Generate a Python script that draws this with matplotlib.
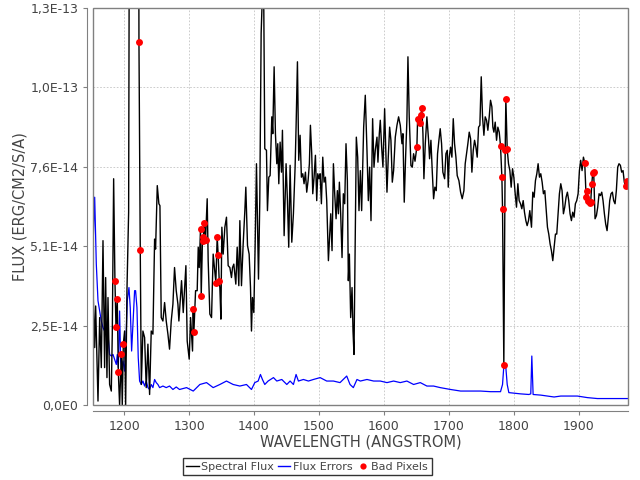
import numpy as np
import matplotlib
matplotlib.use("Agg")
import matplotlib.pyplot as plt
from matplotlib.lines import Line2D
from matplotlib.patches import Rectangle

# ================= DATA (flux in 1E-14 erg/cm2/s/A) =================
flux_wave = [
    1152.0, 1154.6, 1156.1, 1159.7, 1162.3, 1164.8, 1167.4, 1169.9, 1171.5, 1173.5,
    1175.1, 1177.6, 1180.2, 1181.7, 1183.8, 1185.8, 1187.4, 1189.4, 1191.0, 1193.0,
    1195.6, 1197.1, 1198.7, 1200.7, 1202.3, 1204.3, 1206.9, 1208.4, 1210.0, 1215.0,
    1220.0, 1222.0, 1222.8, 1224.8, 1226.4, 1228.9, 1231.5, 1234.0, 1236.6, 1239.2,
    1241.7, 1244.3, 1246.9, 1248.4, 1251.0, 1253.5, 1255.1, 1257.1, 1259.7, 1262.3,
    1264.8, 1267.4, 1269.9, 1272.5, 1275.1, 1277.6, 1280.2, 1282.8, 1284.3, 1288.4,
    1291.0, 1295.1, 1297.1, 1300.2, 1302.3, 1305.3, 1306.4, 1307.4, 1310.0, 1312.5,
    1314.1, 1315.6, 1317.6, 1318.7, 1320.7, 1321.7, 1323.3, 1325.3, 1327.9, 1329.4,
    1332.0, 1334.6, 1337.1, 1341.2, 1343.3, 1344.8, 1346.4, 1347.4, 1349.0, 1350.5,
    1352.5, 1355.1, 1357.6, 1360.2, 1362.8, 1365.3, 1366.9, 1368.9, 1372.0, 1374.1,
    1376.6, 1378.2, 1380.7, 1383.3, 1385.9, 1387.4, 1390.0, 1392.5, 1394.6, 1396.1,
    1397.6, 1399.7, 1401.7, 1403.8, 1406.9, 1408.9, 1411.0, 1413.0, 1415.1, 1416.6,
    1419.2, 1420.7, 1422.8, 1424.8, 1427.4, 1428.9, 1431.0, 1433.0, 1435.1, 1436.6,
    1438.2, 1440.2, 1442.3, 1443.8, 1446.4, 1447.9, 1449.4, 1451.5, 1453.5, 1455.6,
    1458.2, 1460.7, 1463.3, 1464.8, 1466.9, 1468.9, 1471.0, 1473.0, 1475.1, 1477.1,
    1479.2, 1481.2, 1483.3, 1485.3, 1486.9, 1488.9, 1490.5, 1492.5, 1494.6, 1496.6,
    1498.2, 1500.2, 1501.8, 1503.8, 1505.9, 1507.9, 1510.0, 1512.0, 1514.6, 1516.6,
    1518.2, 1520.2, 1522.3, 1524.3, 1526.4, 1528.4, 1530.0, 1531.5, 1533.5, 1535.6,
    1537.6, 1539.7, 1541.7, 1543.8, 1545.3, 1546.9, 1548.9, 1551.0, 1552.5, 1554.0,
    1557.6, 1559.7, 1561.7, 1563.8, 1565.8, 1568.9, 1571.4, 1574.0, 1576.1, 1578.1,
    1580.2, 1582.7, 1584.8, 1586.8, 1589.4, 1590.9, 1593.0, 1594.5, 1596.6, 1598.6,
    1601.2, 1603.2, 1604.8, 1606.8, 1608.9, 1610.9, 1613.0, 1615.0, 1617.6, 1620.2,
    1622.7, 1625.3, 1627.9, 1629.4, 1631.4, 1633.5, 1635.5, 1637.1, 1639.1, 1641.7,
    1643.8, 1645.8, 1648.0, 1650.9, 1652.0, 1655.6, 1657.1, 1658.6, 1660.2, 1661.7,
    1663.8, 1666.3, 1668.9, 1670.4, 1672.5, 1674.5, 1676.6, 1678.6, 1680.7, 1682.7,
    1684.8, 1686.8, 1688.9, 1690.9, 1693.6, 1695.6, 1697.7, 1699.2, 1700.7, 1702.8,
    1704.8, 1706.9, 1708.9, 1711.0, 1713.0, 1715.6, 1718.2, 1720.7, 1723.3, 1725.3,
    1727.4, 1729.4, 1731.5, 1733.6, 1735.6, 1737.7, 1739.7, 1741.8, 1743.8, 1745.9,
    1747.9, 1750.0, 1752.0, 1754.1, 1756.1, 1758.2, 1760.2, 1762.3, 1764.3, 1766.4,
    1767.9, 1769.5, 1771.5, 1773.6, 1775.6, 1777.7, 1779.7, 1781.8, 1782.8, 1784.8,
    1786.9, 1787.9, 1790.0, 1792.0, 1794.1, 1796.1, 1798.2, 1800.2, 1802.3, 1804.3,
    1806.4, 1808.4, 1810.5, 1812.5, 1814.6, 1816.6, 1818.7, 1820.7, 1822.8, 1824.8,
    1827.4, 1829.4, 1831.5, 1833.5, 1835.6, 1837.6, 1839.7, 1841.7, 1843.8, 1845.8,
    1847.9, 1849.9, 1852.0, 1854.0, 1856.1, 1858.1, 1860.2, 1862.2, 1864.3, 1866.3,
    1868.4, 1870.4, 1872.5, 1874.5, 1876.6, 1878.6, 1880.7, 1882.7, 1884.8, 1886.8,
    1888.9, 1890.9, 1893.0, 1895.0, 1897.1, 1899.2, 1901.2, 1903.2, 1905.3, 1907.4,
    1909.4, 1911.5, 1912.5, 1915.0, 1917.1, 1918.6, 1920.2, 1921.7, 1923.2, 1925.3,
    1927.4, 1929.4, 1931.5, 1933.5, 1935.6, 1937.6, 1939.7, 1941.7, 1943.8, 1945.8,
    1947.9, 1949.9, 1952.0, 1954.0, 1956.1, 1958.1, 1960.2, 1962.2, 1964.3, 1966.3,
    1968.4, 1970.4, 1972.5, 1974.0, 1976.1,
]
flux_vals = [
    3.76, 1.84, 3.17, 0.13, 2.80, 1.20, 5.26, 1.20, 4.08, 0.88,
    3.44, 0.66, 0.45, 2.27, 7.24, 3.98, 2.50, 3.39, 1.06, 0.00,
    1.62, 0.00, 1.95, 2.37, 0.00, 3.66, 6.17, 20.0, 30.0, 40.0,
    30.0, 20.0, 11.60, 4.96, 0.66, 2.37, 2.16, 0.56, 1.95, 0.34,
    2.37, 2.27, 5.31, 4.99, 7.02, 6.44, 6.38, 2.80, 2.69, 3.28,
    2.69, 2.27, 1.79, 2.69, 3.23, 4.40, 3.66, 3.23, 2.69, 3.98,
    2.96, 4.46, 2.05, 1.47, 2.80, 1.73, 3.07, 2.34, 3.66, 3.66,
    5.05, 4.40, 5.63, 3.50, 5.37, 5.26, 5.83, 5.28, 6.60, 4.62,
    2.91, 2.80, 4.83, 3.92, 5.38, 4.80, 3.98, 3.76, 2.75, 5.69,
    4.83, 5.69, 6.01, 4.46, 4.40, 4.08, 4.40, 4.51, 3.87, 5.05,
    3.82, 5.90, 3.82, 5.15, 6.22, 6.97, 5.10, 4.83, 3.76, 2.37,
    3.44, 2.96, 5.05, 7.72, 4.03, 6.54, 11.89, 13.20, 12.64, 8.20,
    8.15, 6.22, 7.29, 7.34, 9.22, 8.68, 10.82, 8.68, 7.72, 8.36,
    7.08, 8.41, 7.45, 8.79, 5.42, 6.54, 7.72, 6.54, 5.05, 7.67,
    5.21, 6.12, 7.61, 8.89, 10.98, 7.83, 8.63, 7.29, 7.40, 7.08,
    7.45, 6.81, 7.18, 7.72, 8.95, 8.04, 6.76, 7.29, 7.99, 6.54,
    7.40, 7.24, 7.40, 6.44, 7.93, 7.13, 7.29, 6.54, 4.62, 5.47,
    6.12, 4.94, 7.72, 6.76, 5.96, 6.86, 6.12, 7.13, 6.12, 4.72,
    6.76, 6.44, 8.36, 7.18, 3.98, 4.83, 2.80, 3.76, 2.37, 1.62,
    8.57, 7.93, 6.22, 7.50, 6.22, 8.89, 9.91, 8.15, 6.54, 7.61,
    5.90, 9.16, 7.61, 8.15, 8.57, 7.77, 8.68, 9.11, 8.25, 7.61,
    9.48, 7.93, 6.81, 7.93, 8.89, 8.47, 7.13, 7.50, 8.57, 8.95,
    9.22, 8.95, 8.36, 8.68, 6.49, 7.93, 9.11, 11.14, 9.22, 7.66,
    7.61, 8.04, 7.80, 8.27, 9.16, 9.02, 9.29, 9.49, 8.68, 7.24,
    8.36, 9.22, 8.47, 7.88, 8.47, 7.50, 6.60, 6.97, 6.86, 8.04,
    8.47, 8.84, 8.36, 7.45, 7.24, 8.04, 8.15, 6.97, 7.93, 8.25,
    7.93, 9.16, 8.36, 7.93, 7.34, 7.18, 6.81, 6.60, 6.86, 7.72,
    8.04, 8.36, 8.73, 8.52, 7.45, 8.15, 8.47, 8.25, 7.93, 8.89,
    8.95, 10.50, 9.22, 8.63, 9.22, 9.11, 8.79, 9.22, 9.75, 9.54,
    8.89, 8.73, 9.05, 8.47, 8.89, 8.73, 8.29, 7.29, 6.28, 1.27,
    8.15, 9.80, 8.18, 7.72, 7.50, 6.97, 7.56, 7.29, 6.76, 6.33,
    7.08, 6.54, 6.44, 6.28, 6.54, 6.17, 5.90, 5.74, 5.90, 6.22,
    5.69, 6.81, 6.65, 7.18, 7.40, 7.72, 7.29, 7.40, 7.13, 6.76,
    6.86, 6.28, 5.69, 5.47, 5.15, 4.94, 4.62, 5.05, 5.47, 5.47,
    6.12, 6.76, 7.08, 6.86, 6.12, 6.33, 6.65, 6.81, 6.54, 6.12,
    5.90, 6.17, 6.01, 6.44, 6.54, 6.76, 7.50, 7.83, 7.50, 7.93,
    7.75, 6.67, 6.86, 6.54, 6.46, 6.49, 7.06, 7.42, 7.45, 5.96,
    6.06, 6.33, 6.76, 6.70, 6.81, 6.54, 6.12, 5.79, 5.58, 6.01,
    6.54, 6.76, 6.81, 6.54, 6.44, 6.86, 7.61, 7.72, 7.67, 7.45,
    7.50, 7.13, 7.00, 7.18, 7.13,
]

err_wave = [
    1152.0, 1154.6, 1157.1, 1159.7, 1162.3, 1164.8, 1167.4, 1169.9, 1171.5, 1173.5,
    1175.1, 1177.6, 1180.2, 1182.8, 1185.3, 1187.9, 1189.4, 1191.0, 1193.0, 1194.6,
    1196.1, 1198.2, 1200.7, 1202.3, 1204.8, 1207.4, 1209.4, 1211.5, 1213.5, 1216.1,
    1217.6, 1219.7, 1221.7, 1223.8, 1226.4, 1228.9, 1231.5, 1234.0, 1236.6, 1239.2,
    1241.7, 1244.3, 1246.9, 1249.4, 1252.0, 1254.6, 1259.7, 1264.8, 1269.9, 1275.1,
    1280.2, 1285.3, 1296.1, 1306.4, 1316.6, 1326.9, 1337.1, 1347.4, 1357.6, 1367.9,
    1378.2, 1388.4, 1396.1, 1401.2, 1406.4, 1409.9, 1413.0, 1416.6, 1421.7, 1430.0,
    1435.1, 1442.8, 1450.5, 1455.6, 1460.7, 1464.8, 1468.4, 1476.1, 1483.8, 1491.5,
    1501.8, 1512.0, 1522.3, 1532.5, 1542.8, 1547.9, 1553.0, 1558.6, 1563.8, 1574.0,
    1584.3, 1594.5, 1604.8, 1615.0, 1625.3, 1635.5, 1645.8, 1656.1, 1666.3, 1676.6,
    1686.8, 1702.8, 1718.2, 1733.6, 1748.9, 1764.3, 1779.7, 1782.8, 1784.8, 1787.9,
    1790.0, 1792.5, 1810.5, 1823.3, 1826.3, 1827.9, 1829.9, 1841.7, 1852.0, 1862.2,
    1872.5, 1882.7, 1898.1, 1913.5, 1928.9, 1944.3, 1959.7, 1976.1,
]
err_vals = [
    5.05, 6.65, 4.51, 3.34, 3.01, 2.69, 2.48, 2.37, 2.69, 2.05,
    2.27, 1.62, 1.57, 1.62, 1.46, 1.30, 1.62, 1.20, 3.01, 1.41,
    1.20, 1.41, 1.09, 1.73, 3.34, 3.76, 3.12, 1.73, 2.59, 3.66,
    3.66, 3.12, 1.52, 0.77, 0.66, 0.77, 0.61, 0.77, 0.56, 0.50,
    0.66, 0.56, 0.82, 0.72, 0.66, 0.56, 0.61, 0.56, 0.61, 0.50,
    0.58, 0.50, 0.56, 0.45, 0.66, 0.72, 0.56, 0.66, 0.77, 0.66,
    0.61, 0.66, 0.50, 0.72, 0.77, 0.98, 0.82, 0.66, 0.77, 0.88,
    0.77, 0.82, 0.66, 0.77, 0.66, 0.98, 0.77, 0.82, 0.77, 0.82,
    0.88, 0.77, 0.77, 0.72, 0.93, 0.66, 0.56, 0.82, 0.77, 0.82,
    0.77, 0.77, 0.72, 0.77, 0.72, 0.77, 0.66, 0.72, 0.61, 0.61,
    0.56, 0.50, 0.45, 0.45, 0.45, 0.43, 0.43, 0.66, 1.25, 1.20,
    0.66, 0.40, 0.36, 0.34, 0.36, 1.57, 0.34, 0.32, 0.29, 0.26,
    0.29, 0.29, 0.29, 0.24, 0.21, 0.21, 0.21, 0.21,
]

bad_wave = [
    1185.8, 1187.4, 1189.4, 1191.0, 1195.6, 1198.7, 1222.8, 1224.8,
    1306.4, 1307.4, 1317.6, 1318.7, 1320.7, 1321.7, 1323.3, 1325.3,
    1341.2, 1343.3, 1344.8, 1346.4, 1650.9, 1652.0, 1655.6, 1657.1, 1658.6,
    1779.7, 1781.8, 1782.8, 1784.8, 1786.9, 1787.9, 1790.0,
    1909.4, 1911.5, 1912.5, 1915.0, 1917.1, 1918.6, 1920.2, 1921.7, 1923.2,
    1972.5, 1974.0,
]

y_ticks = [0, 2.54, 5.08, 7.62, 10.16, 12.7]
y_tick_labels = ["0,0E0", "2,5E-14", "5,1E-14", "7,6E-14", "1,0E-13", "1,3E-13"]
x_ticks = [1200, 1300, 1400, 1500, 1600, 1700, 1800, 1900]

scale = 1e-14
wave = np.array(flux_wave)
flux = np.array(flux_vals) * scale
errs = np.array(err_vals) * scale
bad = np.isin(wave, bad_wave)

# ================= PLOT =================
plt.rcParams["font.family"] = "DejaVu Sans"
grey = "#808080"
text_grey = "#444444"

fig = plt.figure(figsize=(6.4, 4.8), dpi=100)
ax = fig.add_axes([0.1453, 0.156, 0.8359, 0.8273])

ax.plot(wave, flux, color="black", lw=1.0, zorder=3)
ax.plot(err_wave, errs, color="#0000ff", lw=0.9, zorder=2)
ax.plot(wave[bad], flux[bad], "o", color="#ff0000", ms=5, mec="none", zorder=4)

ax.set_xlim(1152, 1976)
ax.set_ylim(0, 12.7 * scale)
ax.set_xticks(x_ticks)
ax.set_yticks([v * scale for v in y_ticks])
ax.set_yticklabels(y_tick_labels)

ax.grid(True, color="#c4c4c4", linestyle=(0, (2, 2)), lw=0.6)
ax.set_axisbelow(True)

for side in ["top", "right"]:
    ax.spines[side].set_visible(False)
for side in ["left", "bottom"]:
    ax.spines[side].set_position(("outward", 4))
    ax.spines[side].set_color(grey)
ax.add_patch(Rectangle((0, 0), 1, 1, transform=ax.transAxes, fill=False,
                       edgecolor=grey, lw=1.0, clip_on=False, zorder=5))

ax.tick_params(axis="both", colors=grey, labelcolor=text_grey,
               labelsize=9, length=3, direction="out")

ax.set_xlabel("WAVELENGTH (ANGSTROM)", fontsize=10.5, color=text_grey, labelpad=1)
ax.set_ylabel("FLUX (ERG/CM2/S/A)", fontsize=10.5, color=text_grey, labelpad=2)

handles = [
    Line2D([], [], color="black", lw=1.0),
    Line2D([], [], color="#0000ff", lw=1.0),
    Line2D([], [], marker="o", color="#ff0000", ls="none", ms=4.5, mec="none"),
]
leg = fig.legend(handles, ["Spectral Flux", "Flux Errors", "Bad Pixels"],
                 loc="center", bbox_to_anchor=(0.48, 0.028), ncol=3,
                 fontsize=8, frameon=True, fancybox=False,
                 handlelength=1.1, handletextpad=0.2, columnspacing=0.4,
                 borderpad=0.35, borderaxespad=0)
leg.get_frame().set_edgecolor("black")
leg.get_frame().set_linewidth(1.0)
for t in leg.get_texts():
    t.set_color(text_grey)

plt.savefig("out.png", dpi=100)
